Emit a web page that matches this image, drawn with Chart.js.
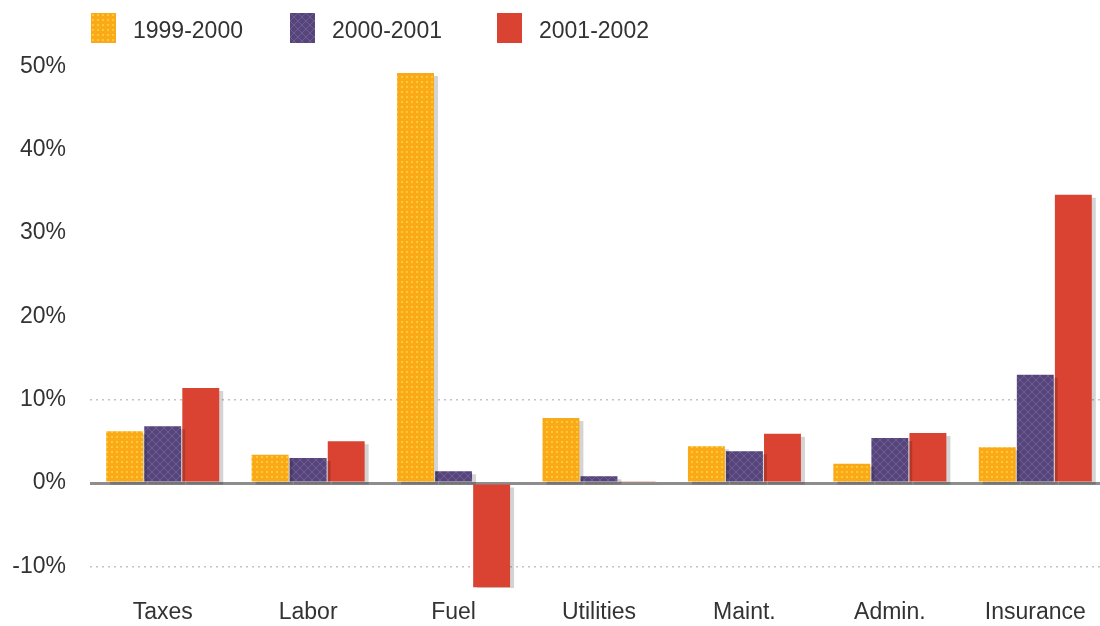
<!DOCTYPE html>
<html>
<head>
<meta charset="utf-8">
<title>Cost increases</title>
<script src="https://cdn.jsdelivr.net/npm/chart.js@4.4.1/dist/chart.umd.min.js"></script>
<style>
  body { margin: 0; background: #fff; overflow: hidden; }
  #wrap { position: relative; width: 1110px; height: 626px; }
  #legend {
    position: absolute; left: 91px; top: 13px; display: flex;
    font: 23px "Liberation Sans", Arial, sans-serif; color: #333;
  }
  .item { display: flex; align-items: center; }
  .item:nth-child(1) { width: 199px; }
  .item:nth-child(2) { width: 207px; }
  .item span:last-child { position: relative; top: 2px; }
  .swatch { width: 25px; height: 30px; margin-right: 17px; }
</style>
</head>
<body>
<div id="wrap">
  <canvas id="costChart" width="1110" height="626"></canvas>
  <div id="legend"></div>
</div>
<script>
let categories = ['Taxes', 'Labor', 'Fuel', 'Utilities', 'Maint.', 'Admin.', 'Insurance'];
let seriesNames = ['1999-2000', '2000-2001', '2001-2002'];
let fy2000 = [6.2, 3.4, 49.2, 7.8, 4.4, 2.3, 4.3];
let fy2001 = [6.8, 3.0, 1.4, 0.8, 3.8, 5.4, 13.0];
let fy2002 = [11.4, 5.0, -12.5, 0.2, 5.9, 6.0, 34.6];
let yTicks = [-10, 0, 10, 20, 30, 40, 50];

// small tiles used as fill patterns
function dotTile(base, dot) {
    let c = document.createElement('canvas');
    c.width = 5; c.height = 5;
    let g = c.getContext('2d');
    g.fillStyle = base;
    g.fillRect(0, 0, 5, 5);
    g.fillStyle = dot;
    g.fillRect(1, 1, 2, 2);
    return c;
}

function crossTile(base, line) {
    let c = document.createElement('canvas');
    c.width = 8; c.height = 8;
    let g = c.getContext('2d');
    g.fillStyle = base;
    g.fillRect(0, 0, 8, 8);
    g.strokeStyle = line;
    g.lineWidth = 1;
    g.beginPath();
    g.moveTo(0, 0); g.lineTo(8, 8);
    g.moveTo(8, 0); g.lineTo(0, 8);
    g.stroke();
    return c;
}

function solidTile(color) {
    let c = document.createElement('canvas');
    c.width = 2; c.height = 2;
    let g = c.getContext('2d');
    g.fillStyle = color;
    g.fillRect(0, 0, 2, 2);
    return c;
}

let ctx = document.getElementById('costChart').getContext('2d');
let tiles = [
    dotTile('#F9A91A', '#FFCB2C'),
    crossTile('#56457A', '#6E5C92'),
    solidTile('#DA4231')
];
let fills = tiles.map(t => ctx.createPattern(t, 'repeat'));

// grey offset shadow behind every bar
const barShadow = {
    id: 'barShadow',
    beforeDatasetDraw(chart) {
        let c = chart.ctx;
        c.save();
        c.shadowColor = 'rgba(0, 0, 0, 0.17)';
        c.shadowOffsetX = 4;
        c.shadowOffsetY = 3;
        c.shadowBlur = 0;
    },
    afterDatasetDraw(chart) {
        chart.ctx.restore();
    }
};

let labelFont = { family: '"Liberation Sans", Arial, sans-serif', size: 23 };

let chart = new Chart(ctx, {
    type: 'bar',
    data: {
        labels: categories,
        datasets: [fy2000, fy2001, fy2002].map((values, i) => ({
            label: seriesNames[i],
            data: values,
            backgroundColor: fills[i],
            borderWidth: 0,
            barPercentage: 0.97,
            categoryPercentage: 0.785
        }))
    },
    options: {
        responsive: false,
        animation: false,
        layout: { padding: { top: 58, left: 5, right: 2, bottom: 0 } },
        plugins: {
            legend: { display: false },
            tooltip: { enabled: false }
        },
        scales: {
            x: {
                afterFit: scale => { scale.height = 38; },
                grid: { display: false },
                border: { display: false },
                ticks: { font: labelFont, color: '#333', padding: 3 }
            },
            y: {
                min: -12.6,
                max: 51,
                afterFit: scale => { scale.width = 85; },
                afterBuildTicks: scale => {
                    scale.ticks = yTicks.map(v => ({ value: v }));
                },
                ticks: {
                    font: labelFont,
                    color: '#333',
                    padding: 24,
                    callback: v => v + '%'
                },
                grid: {
                    drawTicks: false,
                    color: c => {
                        if (!c.tick) return 'transparent';
                        if (c.tick.value === 0) return '#8d8d8d';
                        if (Math.abs(c.tick.value) === 10) return '#c4c4c4';
                        return 'transparent';
                    },
                    lineWidth: c => (c.tick && c.tick.value === 0) ? 3 : 1.5
                },
                border: {
                    display: false,
                    dash: c => (c.tick && c.tick.value === 0) ? [] : [2, 4]
                }
            }
        }
    },
    plugins: [barShadow]
});

// legend built from the same series
let legend = document.getElementById('legend');
seriesNames.forEach((name, i) => {
    let item = document.createElement('div');
    item.className = 'item';
    let swatch = document.createElement('span');
    swatch.className = 'swatch';
    swatch.style.backgroundImage = `url(${tiles[i].toDataURL()})`;
    let text = document.createElement('span');
    text.textContent = name;
    item.appendChild(swatch);
    item.appendChild(text);
    legend.appendChild(item);
});
</script>
</body>
</html>
